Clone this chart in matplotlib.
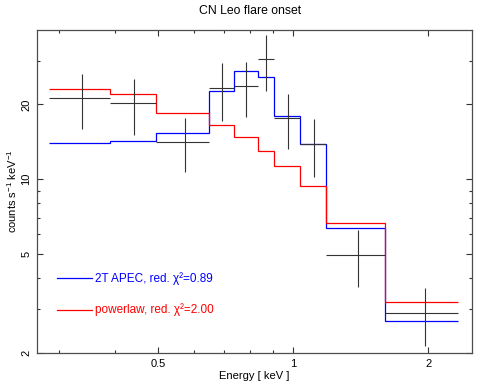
import numpy as np
import matplotlib
matplotlib.use("Agg")
import matplotlib.pyplot as plt
from matplotlib.ticker import FixedLocator, NullFormatter, FixedFormatter

plt.rcParams['font.family'] = ['Liberation Sans', 'DejaVu Sans']
plt.rcParams['mathtext.fontset'] = 'custom'
plt.rcParams['mathtext.rm'] = 'Liberation Sans'
plt.rcParams['mathtext.it'] = 'Liberation Sans:italic'

# energy bins (keV)
bin_edges = [0.286, 0.391, 0.495, 0.651, 0.740, 0.834, 0.909, 1.037, 1.185, 1.606, 2.329]
bin_centers = [0.338, 0.443, 0.573, 0.695, 0.787, 0.871, 0.973, 1.111, 1.395, 1.967]

# observed spectrum and errors (counts s^-1 keV^-1)
data_rate = [21.2, 20.2, 14.15, 23.3, 23.7, 30.3, 17.6, 13.85, 4.97, 2.89]
data_err = [5.3, 5.2, 3.5, 6.1, 5.95, 7.6, 4.4, 3.6, 1.29, 0.76]

# models
apec_model = [13.95, 14.25, 15.3, 22.56, 27.3, 25.8, 17.9, 13.9, 6.39, 2.70]
powerlaw_model = [22.98, 22.0, 18.46, 16.48, 14.75, 13.0, 11.3, 9.43, 6.66, 3.215]

apec_label = "2T APEC, red. χ²=0.89"
pl_label = "powerlaw, red. χ²=2.00"

fig = plt.figure(figsize=(4.84, 3.82), dpi=100)
ax = fig.add_axes([37/484, 29/382, 435/484, 323/382])

edges = np.array(bin_edges)
ax.stairs(apec_model, edges, baseline=None, color='blue', lw=0.9)
ax.stairs(powerlaw_model, edges, baseline=None, color='red', lw=0.9)

# data crosses
ax.hlines(data_rate, edges[:-1], edges[1:], color='0.2', lw=0.8)
ylo = np.array(data_rate) - np.array(data_err)
yhi = np.array(data_rate) + np.array(data_err)
ax.vlines(bin_centers, ylo, yhi, color='0.2', lw=0.8)

ax.set_xscale('log')
ax.set_yscale('log')
ax.set_xlim(0.2686, 2.506)
ax.set_ylim(2, 39.8)

ax.xaxis.set_major_locator(FixedLocator([0.5, 1, 2]))
ax.xaxis.set_major_formatter(FixedFormatter(['0.5', '1', '2']))
ax.xaxis.set_minor_locator(FixedLocator([0.3, 0.4, 0.6, 0.7, 0.8, 0.9]))
ax.xaxis.set_minor_formatter(NullFormatter())
ax.yaxis.set_major_locator(FixedLocator([2, 5, 10, 20]))
ax.yaxis.set_major_formatter(FixedFormatter(['2', '5', '10', '20']))
ax.yaxis.set_minor_locator(FixedLocator([3, 4, 6, 7, 8, 9, 30]))
ax.yaxis.set_minor_formatter(NullFormatter())

ax.tick_params(which='both', direction='in', top=True, right=True, color='0.2', width=0.8)
ax.tick_params(which='major', length=4, labelsize=8, pad=4)
ax.tick_params(which='minor', length=2)
for lab in ax.get_yticklabels():
    lab.set_rotation(90)
    lab.set_va('center')
for sp in ax.spines.values():
    sp.set_color('0.3')
    sp.set_linewidth(0.9)

ax.set_xlabel("Energy [ keV ]", fontsize=8, labelpad=2)
ax.set_ylabel(r"counts s$^{-1}$ keV$^{-1}$", fontsize=8, labelpad=2)
fig.text(250/484, 1 - 11/382, "CN Leo flare onset", ha='center', va='center', fontsize=8.8)

# legend drawn by hand
ax.plot([0.046, 0.126], [0.231, 0.231], color='blue', lw=0.9, transform=ax.transAxes)
ax.text(0.133, 0.231, apec_label, color='blue', fontsize=8.5, va='center', transform=ax.transAxes)
ax.plot([0.046, 0.126], [0.133, 0.133], color='red', lw=0.9, transform=ax.transAxes)
ax.text(0.133, 0.133, pl_label, color='red', fontsize=8.5, va='center', transform=ax.transAxes)

fig.savefig("out.png", dpi=100)
